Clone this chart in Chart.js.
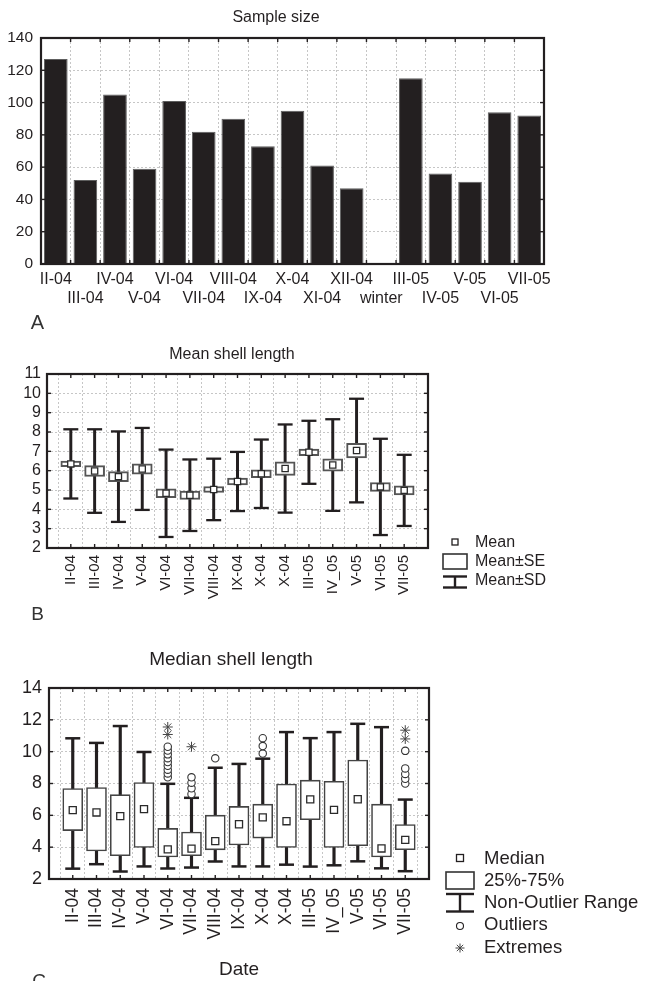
<!DOCTYPE html>
<html><head><meta charset="utf-8">
<script src="https://cdn.jsdelivr.net/npm/chart.js@4.4.1/dist/chart.umd.min.js"></script>
<style>
html,body{margin:0;padding:0;background:#fff;width:646px;height:981px;overflow:hidden}
.p{position:absolute;left:0}
canvas{display:block}
</style></head><body>
<div class="p" style="top:0px"><canvas id="cA" width="646" height="330" style="width:646px;height:330px"></canvas></div>
<div class="p" style="top:330px"><canvas id="cB" width="646" height="300" style="width:646px;height:300px"></canvas></div>
<div class="p" style="top:630px"><canvas id="cC" width="646" height="351" style="width:646px;height:351px"></canvas></div>
<script>
// ---------- DATA ----------
const monthsA = ['II-04','III-04','IV-04','V-04','VI-04','VII-04','VIII-04','IX-04','X-04','XI-04','XII-04','winter','III-05','IV-05','V-05','VI-05','VII-05'];
const sampleSize = [127, 52, 105, 59, 101, 82, 90, 73, 95, 61, 47, 0, 115, 56, 51, 94, 92];
const yTicksA = [0, 20, 40, 60, 80, 100, 120, 140];

const datesBC = ['II-04','III-04','IV-04','V-04','VI-04','VII-04','VIII-04','IX-04','X-04','X-04','III-05','IV_05','V-05','VI-05','VII-05'];

const meanLen = [6.35, 5.98, 5.69, 6.09, 4.83, 4.73, 5.03, 5.44, 5.84, 6.11, 6.95, 6.29, 7.04, 5.16, 4.98];
const seLen   = [0.14, 0.28, 0.26, 0.27, 0.23, 0.22, 0.15, 0.18, 0.20, 0.35, 0.17, 0.32, 0.38, 0.23, 0.23];
const sdLen   = [1.79, 2.16, 2.34, 2.12, 2.26, 1.85, 1.59, 1.53, 1.77, 2.28, 1.63, 2.37, 2.68, 2.49, 1.84];
const yTicksB = [2, 3, 4, 5, 6, 7, 8, 9, 10, 11];

const medianLen = [6.33, 6.18, 5.95, 6.39, 3.86, 3.91, 4.38, 5.44, 5.87, 5.63, 7.00, 6.34, 7.01, 3.92, 4.46];
const q1Len     = [5.04, 3.76, 3.46, 3.98, 3.38, 3.46, 3.83, 4.14, 4.57, 3.98, 5.72, 3.98, 4.09, 3.38, 3.84];
const q3Len     = [7.68, 7.75, 7.30, 8.06, 5.18, 4.95, 6.01, 6.56, 6.70, 7.97, 8.21, 8.14, 9.47, 6.70, 5.42];
const lowLen    = [2.65, 2.93, 2.47, 2.79, 2.66, 2.72, 3.10, 2.79, 2.79, 2.90, 2.78, 2.86, 3.11, 2.67, 2.49];
const highLen   = [10.84, 10.55, 11.61, 9.98, 7.98, 7.10, 8.99, 9.23, 9.56, 11.23, 10.85, 11.23, 11.75, 11.54, 6.99];
const outliersLen = [[], [], [], [], [8.39, 8.63, 8.87, 9.11, 9.35, 9.59, 9.83, 10.07, 10.31], [7.34, 7.70, 8.05, 8.39], [9.58], [], [9.88, 10.35, 10.85], [], [], [], [], [], [8.00, 8.30, 8.60, 8.95, 10.05]];
const extremesLen = [[], [], [], [], [11.08, 11.55], [10.31], [], [], [], [], [], [], [], [], [10.80, 11.35]];
const yTicksC = [2, 4, 6, 8, 10, 12, 14];

// ---------- STYLE ----------
const INK = '#231f20';
const GRID = '#c6c6c6';
const FONT = '"Liberation Sans", Arial, Helvetica, sans-serif';
Chart.defaults.font.family = FONT;
Chart.defaults.color = INK;
Chart.defaults.animation = false;

function drawIcon(ctx, it) {
  ctx.save();
  ctx.strokeStyle = INK; ctx.fillStyle = '#fff';
  const ln = (x0, y0, x1, y1) => { ctx.beginPath(); ctx.moveTo(x0, y0); ctx.lineTo(x1, y1); ctx.stroke(); };
  if (it.icon === 'square') {
    ctx.lineWidth = 1.3;
    ctx.fillRect(it.x - it.s / 2, it.y - it.s / 2, it.s, it.s);
    ctx.strokeRect(it.x - it.s / 2, it.y - it.s / 2, it.s, it.s);
  } else if (it.icon === 'box') {
    ctx.lineWidth = 1.6; ctx.strokeStyle = '#333';
    ctx.strokeRect(it.x0, it.y0, it.x1 - it.x0, it.y1 - it.y0);
  } else if (it.icon === 'whisker') {
    ctx.lineWidth = 2.4;
    const xm = (it.x0 + it.x1) / 2;
    ln(it.x0, it.y0, it.x1, it.y0); ln(xm, it.y0, xm, it.y1); ln(it.x0, it.y1, it.x1, it.y1);
  } else if (it.icon === 'circle') {
    ctx.lineWidth = 1.1; ctx.beginPath(); ctx.arc(it.x, it.y, it.r, 0, Math.PI * 2); ctx.stroke();
  } else if (it.icon === 'star') {
    ctx.lineWidth = 1; ctx.strokeStyle = '#444';
    for (let k = 0; k < 4; k++) {
      const a = k * Math.PI / 4;
      ln(it.x - Math.cos(a) * it.r, it.y - Math.sin(a) * it.r, it.x + Math.cos(a) * it.r, it.y + Math.sin(a) * it.r);
    }
  }
  ctx.restore();
}

const decor = {
  id: 'decor',
  afterDraw(chart, args, o) {
    const ctx = chart.ctx, a = chart.chartArea;
    const xs = chart.scales.x, ys = chart.scales.y;
    const ln = (x0, y0, x1, y1) => { ctx.beginPath(); ctx.moveTo(x0, y0); ctx.lineTo(x1, y1); ctx.stroke(); };
    ctx.save();
    ctx.strokeStyle = INK; ctx.lineWidth = 1.4;
    (o.xMarks || []).forEach(v => {
      const px = xs.getPixelForValue(v);
      ln(px, a.top, px, a.top + 4); ln(px, a.bottom, px, a.bottom - 4);
    });
    ys.ticks.forEach(t => {
      const py = ys.getPixelForValue(t.value);
      ln(a.left, py, a.left + 4, py); ln(a.right, py, a.right - 4, py);
    });
    ctx.lineWidth = 2.2;
    ctx.strokeRect(a.left, a.top, a.right - a.left, a.bottom - a.top);
    ctx.fillStyle = INK;
    if (o.title) {
      ctx.font = o.title.size + 'px ' + FONT;
      ctx.textAlign = 'center'; ctx.textBaseline = 'middle';
      ctx.fillText(o.title.text, o.title.x, o.title.y);
    }
    if (o.letter) {
      ctx.font = o.letter.size + 'px ' + FONT;
      ctx.fillStyle = '#333';
      ctx.textAlign = 'center'; ctx.textBaseline = 'alphabetic';
      ctx.fillText(o.letter.text, o.letter.x, o.letter.y);
    }
    if (o.legend) {
      ctx.fillStyle = INK;
      ctx.font = o.legend.size + 'px ' + FONT;
      ctx.textAlign = 'left'; ctx.textBaseline = 'middle';
      o.legend.items.forEach(it => {
        drawIcon(ctx, it);
        ctx.fillText(it.text, o.legend.tx, it.ty);
      });
    }
    ctx.restore();
  }
};

const gridOpts = { color: GRID, lineWidth: 1, drawTicks: false };
const borderOpts = { display: false, dash: [2, 2] };
const noUI = { legend: { display: false }, tooltip: { enabled: false } };

// ---------- PANEL A ----------
new Chart(document.getElementById('cA'), {
  type: 'bar',
  data: {
    labels: monthsA,
    datasets: [{
      data: sampleSize,
      backgroundColor: INK, borderColor: '#5e5e5e', borderWidth: 1,
      barPercentage: 0.8, categoryPercentage: 1
    }]
  },
  options: {
    responsive: false, events: [],
    layout: { padding: { top: 38, right: 102, left: 0, bottom: 0 } },
    scales: {
      x: {
        grid: Object.assign({ offset: true }, gridOpts), border: borderOpts,
        ticks: {
          autoSkip: false, maxRotation: 0, minRotation: 0, padding: 6,
          font: { size: 16 }, color: INK,
          callback: (v, i) => (i % 2 ? ['', monthsA[i]] : monthsA[i])
        },
        afterFit: s => { s.height = 66; }
      },
      y: {
        min: yTicksA[0], max: yTicksA[yTicksA.length - 1],
        afterBuildTicks: s => { s.ticks = yTicksA.map(v => ({ value: v })); },
        grid: gridOpts, border: borderOpts,
        ticks: { autoSkip: false, padding: 8, font: { size: 15.5 }, color: INK },
        afterFit: s => { s.width = 41; }
      }
    },
    plugins: Object.assign({
      decor: {
        xMarks: monthsA.slice(1).map((_, i) => i + 0.5),
        title: { text: 'Sample size', x: 276, y: 18, size: 16 },
        letter: { text: 'A', x: 37.5, y: 329, size: 20 }
      }
    }, noUI)
  },
  plugins: [decor]
});

// ---------- shared x axis for B and C ----------
function idxAxis(h, fontSize, pad, extra) {
  return Object.assign({
    type: 'linear', min: -1, max: datesBC.length, offset: false,
    afterBuildTicks: s => { s.ticks = Array.from({ length: datesBC.length + 2 }, (_, k) => ({ value: k - 1 })); },
    grid: gridOpts, border: borderOpts,
    ticks: {
      autoSkip: false, minRotation: 90, maxRotation: 90, padding: pad,
      font: { size: fontSize }, color: INK,
      callback: v => (datesBC[v] !== undefined ? datesBC[v] : '')
    },
    afterFit: s => { s.height = h; }
  }, extra || {});
}
const idx = datesBC.map((_, i) => i);

// ---------- PANEL B ----------
new Chart(document.getElementById('cB'), {
  type: 'bar',
  data: {
    datasets: [
      { type: 'scatter', label: 'Mean', order: 0,
        data: idx.map(i => ({ x: i, y: meanLen[i] })),
        pointStyle: 'rect', pointRadius: 4.4, pointBackgroundColor: '#fff', pointBorderColor: '#2a2a2a', pointBorderWidth: 1.3 },
      { type: 'bar', label: 'Mean±SE', order: 1, grouped: false,
        data: idx.map(i => ({ x: i, y: [meanLen[i] - seLen[i], meanLen[i] + seLen[i]] })),
        barThickness: 20, backgroundColor: '#fff', borderColor: '#555', borderWidth: 2, borderSkipped: false },
      { type: 'scatter', label: 'SD caps', order: 2,
        data: idx.flatMap(i => [{ x: i, y: meanLen[i] + sdLen[i] }, { x: i, y: meanLen[i] - sdLen[i] }]),
        pointStyle: 'line', pointRadius: 7.5, pointBorderColor: INK, pointBorderWidth: 2.3 },
      { type: 'bar', label: 'Mean±SD', order: 3, grouped: false,
        data: idx.map(i => ({ x: i, y: [meanLen[i] - sdLen[i], meanLen[i] + sdLen[i]] })),
        barThickness: 2.3, backgroundColor: INK, borderWidth: 0 }
    ]
  },
  options: {
    responsive: false, events: [],
    layout: { padding: { top: 44, right: 218, left: 0, bottom: 0 } },
    scales: {
      x: idxAxis(82, 15, 7),
      y: {
        min: yTicksB[0], max: yTicksB[yTicksB.length - 1],
        afterBuildTicks: s => { s.ticks = yTicksB.map(v => ({ value: v })); },
        grid: gridOpts, border: borderOpts,
        ticks: { autoSkip: false, padding: 6, font: { size: 16 }, color: INK },
        afterFit: s => { s.width = 47; }
      }
    },
    plugins: Object.assign({
      decor: {
        xMarks: idx,
        title: { text: 'Mean shell length', x: 232, y: 25, size: 16 },
        letter: { text: 'B', x: 37.5, y: 290, size: 19 },
        legend: {
          size: 16, tx: 475,
          items: [
            { icon: 'square', x: 455, y: 212, s: 6, text: 'Mean', ty: 213 },
            { icon: 'box', x0: 443, y0: 224, x1: 467, y1: 239, text: 'Mean±SE', ty: 231.5 },
            { icon: 'whisker', x0: 443, y0: 246.5, x1: 467, y1: 257.5, text: 'Mean±SD', ty: 250.5 }
          ]
        }
      }
    }, noUI)
  },
  plugins: [decor]
});

// ---------- PANEL C ----------
new Chart(document.getElementById('cC'), {
  type: 'bar',
  data: {
    datasets: [
      { type: 'scatter', label: 'Extremes', order: 0,
        data: idx.flatMap(i => extremesLen[i].map(v => ({ x: i, y: v }))),
        pointStyle: 'star', pointRadius: 5, pointBorderColor: '#444', pointBorderWidth: 1 },
      { type: 'scatter', label: 'Outliers', order: 1,
        data: idx.flatMap(i => outliersLen[i].map(v => ({ x: i, y: v }))),
        pointStyle: 'circle', pointRadius: 3.7, pointBackgroundColor: '#fff', pointBorderColor: '#333', pointBorderWidth: 1.1 },
      { type: 'scatter', label: 'Median', order: 2,
        data: idx.map(i => ({ x: i, y: medianLen[i] })),
        pointStyle: 'rect', pointRadius: 5, pointBackgroundColor: '#fff', pointBorderColor: '#2a2a2a', pointBorderWidth: 1.3 },
      { type: 'bar', label: '25%-75%', order: 3, grouped: false,
        data: idx.map(i => ({ x: i, y: [q1Len[i], q3Len[i]] })),
        barThickness: 20, backgroundColor: '#fff', borderColor: '#444', borderWidth: 1.6, borderSkipped: false },
      { type: 'scatter', label: 'Range caps', order: 4,
        data: idx.flatMap(i => [{ x: i, y: lowLen[i] }, { x: i, y: highLen[i] }]),
        pointStyle: 'line', pointRadius: 7.5, pointBorderColor: INK, pointBorderWidth: 2.5 },
      { type: 'bar', label: 'Non-Outlier Range', order: 5, grouped: false,
        data: idx.map(i => ({ x: i, y: [lowLen[i], highLen[i]] })),
        barThickness: 2.5, backgroundColor: INK, borderWidth: 0 }
    ]
  },
  options: {
    responsive: false, events: [],
    layout: { padding: { top: 58, right: 217, left: 0, bottom: 0 } },
    scales: {
      x: idxAxis(102, 17.5, 9, {
        title: { display: true, text: 'Date', font: { size: 19 }, color: INK, padding: { top: 0, bottom: 0 } }
      }),
      y: {
        min: yTicksC[0], max: yTicksC[yTicksC.length - 1],
        afterBuildTicks: s => { s.ticks = yTicksC.map(v => ({ value: v })); },
        grid: gridOpts, border: borderOpts,
        ticks: { autoSkip: false, padding: 7, font: { size: 18 }, color: INK },
        afterFit: s => { s.width = 49; }
      }
    },
    plugins: Object.assign({
      decor: {
        xMarks: idx,
        title: { text: 'Median shell length', x: 231, y: 30, size: 19 },
        letter: { text: 'C', x: 39, y: 357, size: 19 },
        legend: {
          size: 18.5, tx: 484,
          items: [
            { icon: 'square', x: 460, y: 228, s: 7, text: 'Median', ty: 229 },
            { icon: 'box', x0: 446, y0: 242, x1: 474, y1: 259, text: '25%-75%', ty: 250.5 },
            { icon: 'whisker', x0: 446, y0: 264, x1: 474, y1: 281.5, text: 'Non-Outlier Range', ty: 272.5 },
            { icon: 'circle', x: 460, y: 296, r: 3.5, text: 'Outliers', ty: 295 },
            { icon: 'star', x: 460, y: 318, r: 4.5, text: 'Extremes', ty: 317.5 }
          ]
        }
      }
    }, noUI)
  },
  plugins: [decor]
});
</script>
</body></html>
